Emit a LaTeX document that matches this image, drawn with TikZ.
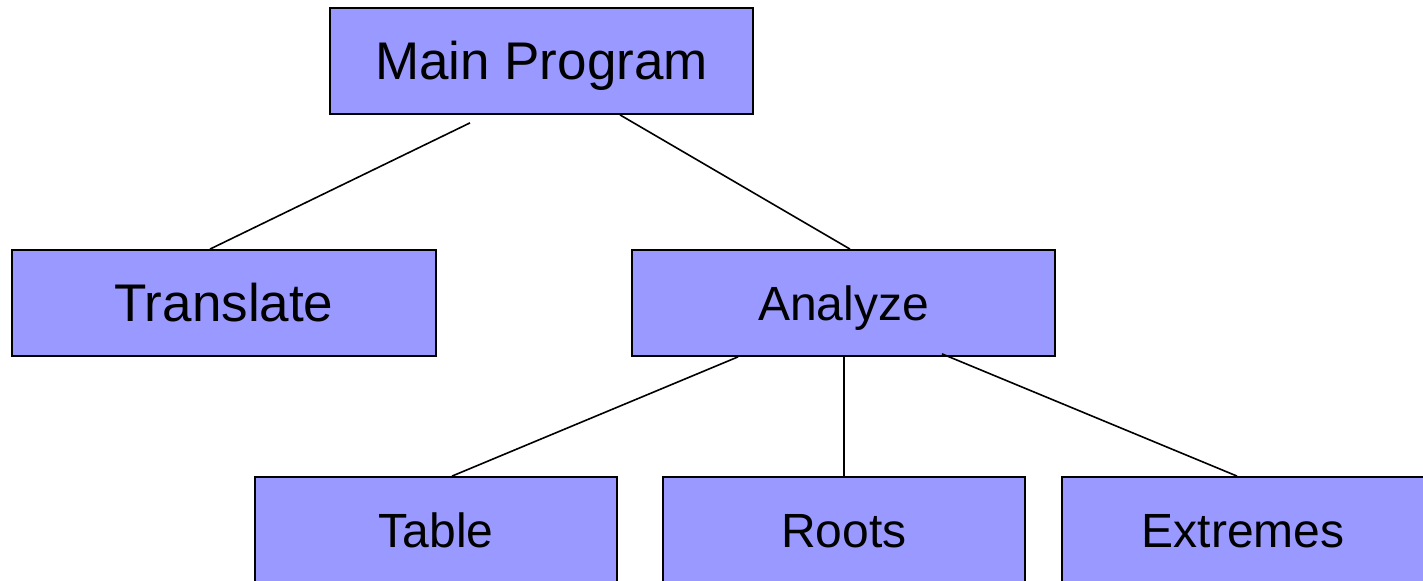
\documentclass[tikz,border=0pt]{standalone}
\usepackage{fontspec}
\setmainfont{Liberation Sans}
\usetikzlibrary{positioning, calc}
\definecolor{blockfill}{RGB}{153,153,255}
\tikzset{
    block/.style={
        rectangle, draw=black, line width=0.9pt, fill=blockfill,
        text centered, inner sep=0pt, text height=17.2pt, text depth=0pt,
        minimum width=181pt, minimum height=53pt,
        font=\fontsize{24}{28}\selectfont
    },
    wideblock/.style={
        block, minimum width=211.75pt
    },
    bigblock/.style={
        wideblock, text height=19pt, font=\fontsize{26.5}{30}\selectfont
    },
    connection/.style={draw=black, line width=0.8pt}
}
\begin{document}
\begin{tikzpicture}[x=0.5pt, y=-0.5pt]

\useasboundingbox (0,0) rectangle (1423,581);

% Top level
\node[bigblock] (main) at (541.5,61) {Main Program};

% Second level
\node[bigblock] (translate) at (224,303) {Translate};
\node[wideblock] (analyze) at (843.5,303) {Analyze};

% Third level
\node[block] (table) at (436,530) {Table};
\node[block] (roots) at (844,530) {Roots};
\node[block] (extremes) at (1243,530) {Extremes};

% Connections
\draw[connection] ([xshift=-35.75pt, yshift=-4pt]main.south) -- ([xshift=-7pt]translate.north);
\draw[connection] ([xshift=39.25pt]main.south) -- ([xshift=3.25pt]analyze.north);
\draw[connection] ([xshift=-52.75pt]analyze.south) -- ([xshift=8pt]table.north);
\draw[connection] (roots.north |- analyze.south) -- (roots.north);
\draw[connection] ([xshift=49.25pt, yshift=1.5pt]analyze.south) -- ([xshift=-3pt]extremes.north);

\end{tikzpicture}
\end{document}
